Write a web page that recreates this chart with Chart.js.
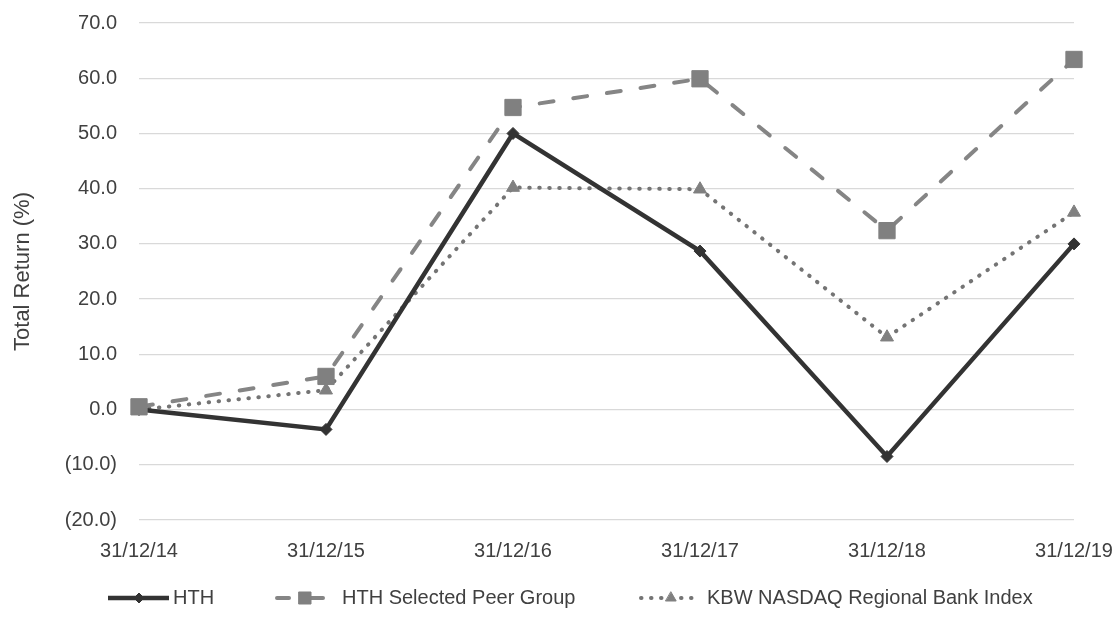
<!DOCTYPE html>
<html lang="en">
<head>
    <meta charset="UTF-8">
    <title>Total Return</title>
    <script src="https://cdn.jsdelivr.net/npm/chart.js"></script>
    <style>
        html, body { margin: 0; padding: 0; background: #fff; }
        #wrap { width: 1116px; height: 625px; }
    </style>
</head>
<body>
    <div id="wrap"><canvas id="returnChart" width="1116" height="625"></canvas></div>

    <script>
        // data
        const dates = ['31/12/14', '31/12/15', '31/12/16', '31/12/17', '31/12/18', '31/12/19'];
        const hth = [0, -3.6, 50.0, 28.7, -8.5, 30.0];
        const peerGroup = [0.5, 6.0, 54.7, 59.9, 32.4, 63.4];
        const kbwIndex = [0, 3.5, 40.2, 39.9, 13.1, 35.7];

        const FONT = '"Liberation Sans", Arial, sans-serif';
        const TEXT = '#404040';

        // legend drawn by hand so the line sample carries its marker
        const bottomLegend = {
            id: 'bottomLegend',
            afterDraw(chart) {
                const ctx = chart.ctx;
                const y = 598;
                const items = [
                    { ds: 0, x1: 108, x2: 169, mx: 139, r: 5, tx: 173, dash: [] },
                    { ds: 1, x1: 277, x2: 330, mx: 305, r: 8.5, tx: 342, dash: [12, 22] },
                    { ds: 2, x1: 641, x2: 695, mx: 671, r: 6, tx: 707, dash: [0.5, 9.5] }
                ];
                ctx.save();
                items.forEach(it => {
                    const d = chart.data.datasets[it.ds];
                    ctx.beginPath();
                    ctx.strokeStyle = d.borderColor;
                    ctx.lineWidth = d.borderWidth;
                    ctx.lineCap = d.borderCapStyle || 'butt';
                    ctx.setLineDash(it.dash);
                    ctx.moveTo(it.x1, y);
                    ctx.lineTo(it.x2, y);
                    ctx.stroke();
                    ctx.setLineDash([]);
                    ctx.fillStyle = d.pointBackgroundColor;
                    ctx.strokeStyle = d.pointBackgroundColor;
                    ctx.lineWidth = 1;
                    Chart.helpers.drawPoint(ctx, {
                        pointStyle: d.pointStyle,
                        radius: it.r,
                        rotation: 0,
                        borderWidth: 1
                    }, it.mx, y);
                    ctx.fillStyle = TEXT;
                    ctx.font = '20px ' + FONT;
                    ctx.textBaseline = 'middle';
                    ctx.textAlign = 'left';
                    ctx.fillText(d.label, it.tx, y);
                });
                ctx.restore();
            }
        };

        function noScalePadding(scale) {
            scale.paddingTop = 0;
            scale.paddingBottom = 0;
            scale.paddingLeft = 0;
            scale.paddingRight = 0;
        }

        new Chart(document.getElementById('returnChart'), {
            type: 'line',
            data: {
                labels: dates,
                datasets: [{
                    label: 'HTH',
                    data: hth,
                    borderColor: '#333333',
                    borderWidth: 4.5,
                    pointStyle: 'rectRot',
                    pointRadius: 6,
                    pointBackgroundColor: '#333333',
                    pointBorderColor: '#333333',
                    pointBorderWidth: 1,
                    tension: 0,
                    order: 1
                }, {
                    label: 'HTH Selected Peer Group',
                    data: peerGroup,
                    borderColor: '#858585',
                    borderWidth: 4,
                    borderDash: [14, 20],
                    borderCapStyle: 'round',
                    pointStyle: 'rect',
                    pointRadius: 11.5,
                    pointBackgroundColor: '#808080',
                    pointBorderColor: '#808080',
                    pointBorderWidth: 1,
                    tension: 0,
                    order: 0
                }, {
                    label: 'KBW NASDAQ Regional Bank Index',
                    data: kbwIndex,
                    borderColor: '#747474',
                    borderWidth: 4,
                    borderDash: [0.5, 9.5],
                    borderCapStyle: 'round',
                    pointStyle: 'triangle',
                    pointRadius: 7.5,
                    pointBackgroundColor: '#808080',
                    pointBorderColor: '#808080',
                    pointBorderWidth: 1,
                    tension: 0,
                    order: 2
                }]
            },
            options: {
                responsive: false,
                animation: false,
                layout: { padding: { top: 23, right: 42, bottom: 57, left: 0 } },
                plugins: {
                    legend: { display: false },
                    tooltip: { enabled: false }
                },
                scales: {
                    x: {
                        offset: false,
                        grid: { display: false },
                        border: { display: false },
                        ticks: {
                            color: TEXT,
                            font: { family: FONT, size: 20 },
                            padding: 11,
                            maxRotation: 0,
                            autoSkip: false
                        },
                        afterFit(scale) {
                            scale.height = 48;
                            noScalePadding(scale);
                        }
                    },
                    y: {
                        min: -20,
                        max: 70,
                        grid: { color: '#d9d9d9', lineWidth: 1.3, drawTicks: false },
                        border: { display: false },
                        ticks: {
                            stepSize: 10,
                            color: TEXT,
                            padding: 22,
                            font: { family: FONT, size: 20 },
                            callback: v => v < 0 ? '(' + Math.abs(v).toFixed(1) + ')' : v.toFixed(1)
                        },
                        title: {
                            display: true,
                            text: 'Total Return (%)',
                            color: TEXT,
                            font: { family: FONT, size: 22 },
                            padding: { top: 10, bottom: 0 }
                        },
                        afterFit(scale) {
                            scale.width = 139;
                            noScalePadding(scale);
                        }
                    }
                }
            },
            plugins: [bottomLegend]
        });
    </script>
</body>
</html>
